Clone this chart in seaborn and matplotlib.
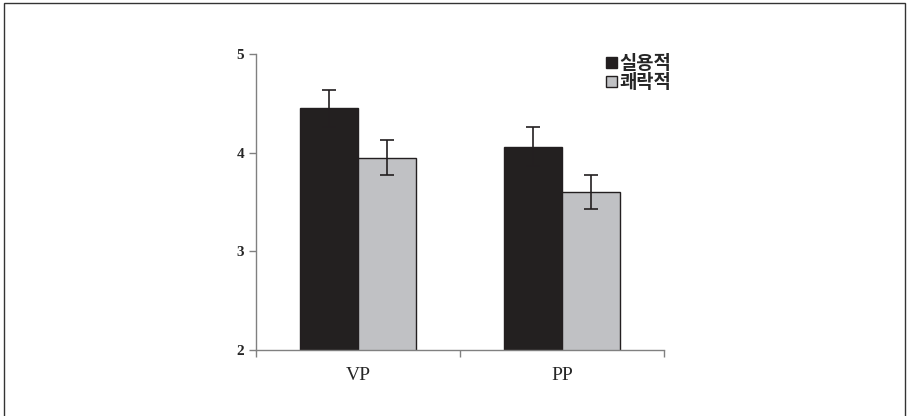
import numpy as np
import pandas as pd
import matplotlib
matplotlib.use("Agg")
import matplotlib.pyplot as plt
import seaborn as sns
from matplotlib.patches import Rectangle

# 데이터
groups = ["VP", "PP"]
conditions = ["실용적", "쾌락적"]
means_util = [4.45, 4.06]
means_hedo = [3.95, 3.60]
err_util = [0.19, 0.20]
err_hedo = [0.18, 0.17]

df = pd.DataFrame({
    "group": groups * 2,
    "cond": [conditions[0]] * 2 + [conditions[1]] * 2,
    "mean": means_util + means_hedo,
    "err": err_util + err_hedo,
})

sns.set_style("white")
plt.rcParams["font.family"] = ["Liberation Serif", "DejaVu Serif"]

fig = plt.figure(figsize=(9.09, 4.16), dpi=100)
ax = fig.add_axes([0.2816, 0.1587, 0.4489, 0.7115])

palette = {conditions[0]: "#231f20", conditions[1]: "#c0c1c4"}
sns.barplot(data=df, x="group", y="mean", hue="cond", hue_order=conditions,
            palette=palette, width=0.57, errorbar=None, edgecolor="#231f20",
            linewidth=1.0, ax=ax, legend=False)

# 오차 막대
for cont, errs in zip(ax.containers, [err_util, err_hedo]):
    xs = [p.get_x() + p.get_width() / 2 for p in cont]
    ys = [p.get_height() for p in cont]
    ax.errorbar(xs, ys, yerr=errs, fmt="none", ecolor="#231f20",
                elinewidth=1.2, capsize=5, capthick=1.2)

ax.set_ylim(2, 5)
ax.set_xlim(-0.5, 1.5)
ax.set_yticks([2, 3, 4, 5])
ax.set_yticklabels(["2", "3", "4", "5"], fontsize=11,
                   fontdict={"family": "Liberation Serif", "weight": "bold"})
ax.set_xticks([-0.5, 0.5, 1.5], minor=False)
ax.set_xticklabels(["", "", ""])
ax.set_xticks([0, 1], minor=True)
ax.set_xticklabels(groups, minor=True, fontsize=14)
ax.tick_params(axis="x", which="minor", length=0, pad=12)
ax.tick_params(axis="both", which="major", length=5, width=1, color="#808080",
               direction="out", bottom=True, left=True)
ax.set_xlabel("")
ax.set_ylabel("")
for s in ["top", "right"]:
    ax.spines[s].set_visible(False)
for s in ["left", "bottom"]:
    ax.spines[s].set_color("#808080")
    ax.spines[s].set_linewidth(1)

# 범례
handles = [Rectangle((0, 0), 1, 1, facecolor=palette[c], edgecolor="#231f20", linewidth=1)
           for c in conditions]
ax.legend(handles, conditions, loc="upper left", bbox_to_anchor=(0.84, 1.025),
          frameon=False, handlelength=0.55, handleheight=0.6, handletextpad=0.15,
          labelspacing=0.0, borderaxespad=0,
          prop={"family": ["Noto Sans CJK KR", "DejaVu Sans"], "weight": "bold", "size": 13.5})

# 외곽 테두리
fig.patches.append(Rectangle((0.004, -0.01), 0.992, 1.003, transform=fig.transFigure,
                             fill=False, edgecolor="#333333", linewidth=1))

fig.savefig("out.png", dpi=100)
